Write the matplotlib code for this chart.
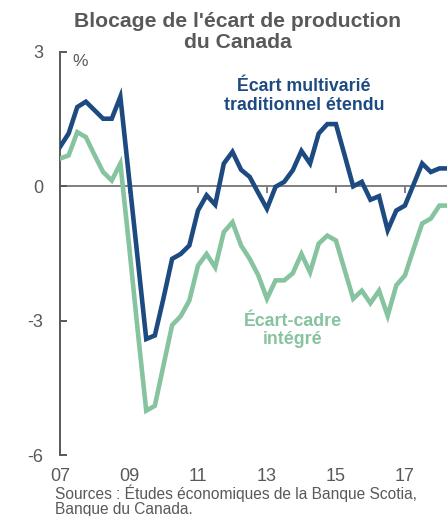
import matplotlib
matplotlib.use("Agg")
from matplotlib import pyplot as plt

plt.rcParams['font.family'] = ['Liberation Sans', 'DejaVu Sans']

# Données trimestrielles, 2007T1 à 2018T2
blue_gap = [0.88, 1.18, 1.77, 1.89, 1.70, 1.51, 1.51, 2.00, 0.20, -1.60,
            -3.41, -3.33, -2.50, -1.62, -1.51, -1.32, -0.54, -0.20, -0.41, 0.51,
            0.77, 0.37, 0.21, -0.15, -0.50, -0.01, 0.10, 0.36, 0.79, 0.51,
            1.18, 1.39, 1.39, 0.70, 0.00, 0.10, -0.30, -0.22, -0.98, -0.54,
            -0.43, 0.04, 0.51, 0.32, 0.40, 0.40]
green_gap = [0.62, 0.69, 1.21, 1.10, 0.70, 0.32, 0.13, 0.51, -1.30, -3.20,
             -5.01, -4.90, -4.00, -3.10, -2.90, -2.55, -1.77, -1.51, -1.81, -1.02,
             -0.80, -1.32, -1.62, -1.99, -2.51, -2.10, -2.10, -1.94, -1.51, -1.92,
             -1.28, -1.10, -1.21, -1.86, -2.51, -2.33, -2.61, -2.33, -2.89, -2.21,
             -1.99, -1.40, -0.83, -0.72, -0.43, -0.43]
start_year = 2007
x_ticks = [2007, 2009, 2011, 2013, 2015, 2017]
x_labels = ['07', '09', '11', '13', '15', '17']
y_ticks = [-6, -3, 0, 3]
y_labels = ['-6', '-3', '0', '3']

years = [start_year + i / 4 for i in range(len(blue_gap))]

BLUE = '#1d4a80'
GREEN = '#86c39f'
GREY = '#595959'
LINE_GREY = '#7f7f7f'

fig = plt.figure(figsize=(4.47, 5.16), dpi=100)
ax = fig.add_axes([60 / 447, 1 - 455 / 516, 387 / 447, 403 / 516])

ax.plot(years, green_gap, color=GREEN, lw=3.3, solid_joinstyle='miter', zorder=3)
ax.plot(years, blue_gap, color=BLUE, lw=3.3, solid_joinstyle='miter', zorder=4)

ax.set_xlim(2007, 2018.22)
ax.set_ylim(-6, 3)

for s in ['top', 'right', 'bottom']:
    ax.spines[s].set_visible(False)
ax.spines['left'].set_color(GREY)
ax.spines['left'].set_linewidth(1.4)

ax.set_yticks(y_ticks, y_labels)
ax.tick_params(axis='y', direction='in', length=5, width=1.4, color=GREY,
               labelcolor=GREY, labelsize=13, pad=12)
ax.set_xticks(x_ticks, x_labels)
ax.tick_params(axis='x', length=0, labelcolor=GREY, labelsize=13, pad=9.5)

# ligne du zéro avec ses petites graduations vers le bas
zero = ax.secondary_xaxis(2 / 3)
zero.set_xticks(x_ticks[1:], [])
for sp in zero.spines.values():
    sp.set_color(LINE_GREY)
    sp.set_linewidth(1.4)
zero.tick_params(axis='x', which='major', top=True, bottom=True, direction='in',
                 length=5, width=1.4, color=LINE_GREY, labeltop=False, labelbottom=False)
zero.xaxis.set_ticks_position('top')
zero.tick_params(axis='x', direction='in', length=5, width=1.4, color=LINE_GREY)

ax.text(2007.58, 2.78, '%', color=GREY, fontsize=12.5, ha='center', va='center')

ax.text(2014.07, 2.02, 'Écart multivarié\ntraditionnel étendu', color=BLUE,
        fontsize=12.8, fontweight='bold', ha='center', va='center', linespacing=1.15)
ax.text(2013.75, -3.22, 'Écart-cadre\nintégré', color=GREEN,
        fontsize=12.8, fontweight='bold', ha='center', va='center', linespacing=1.15)

fig.text(0.532, 1 - 32 / 516, "Blocage de l'écart de production\ndu Canada",
         color=GREY, fontsize=15.2, fontweight='bold', ha='center', va='center',
         linespacing=1.1)
fig.text(55 / 447, 1 - 485 / 516,
         'Sources : Études économiques de la Banque Scotia,\nBanque du Canada.',
         color=GREY, fontsize=11.2, ha='left', va='top', linespacing=0.98)

fig.savefig('out.png', dpi=100)
